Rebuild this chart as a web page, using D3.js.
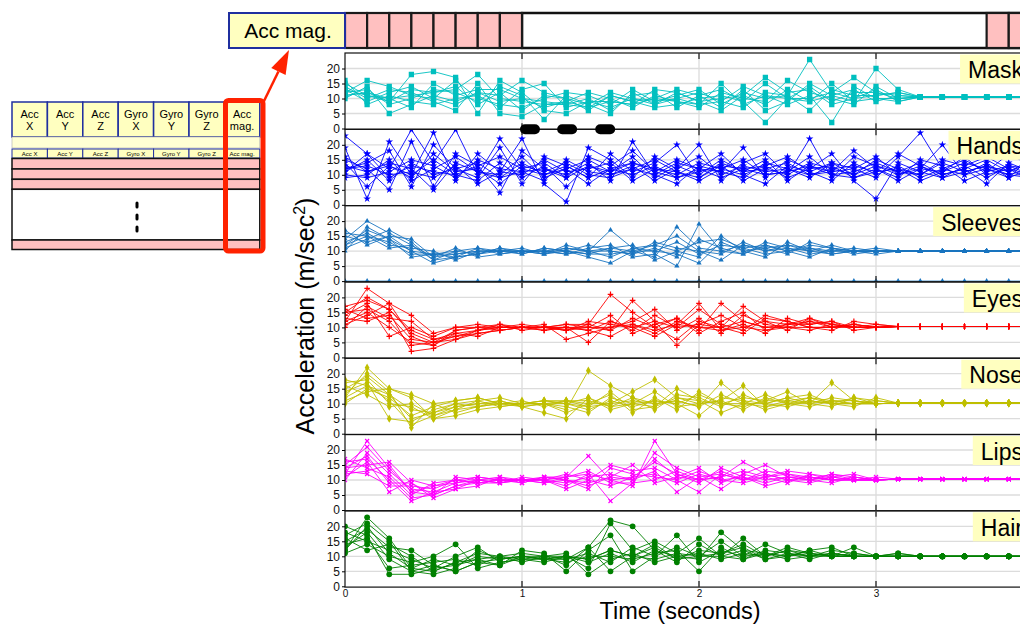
<!DOCTYPE html>
<html>
<head>
<meta charset="utf-8">
<script src="https://cdn.jsdelivr.net/npm/d3@7"></script>
<style>
    body { margin: 0; background: #fff; overflow: hidden; }
    svg { display: block; font-family: 'Liberation Sans', Arial, sans-serif; }
</style>
</head>
<body>
<div id="chart"></div>
<script>
// sample times (seconds)
var times = [0, 0.125, 0.25, 0.375, 0.5, 0.625, 0.75, 0.875, 1, 1.125, 1.25, 1.375, 1.5, 1.625, 1.75, 1.875,
    2, 2.125, 2.25, 2.375, 2.5, 2.625, 2.75, 2.875, 3, 3.125, 3.25, 3.375, 3.5, 3.625, 3.75, 3.875];

var panelNames = ['Mask', 'Hands', 'Sleeves', 'Eyes', 'Nose', 'Lips', 'Hair'];
var yTicks = [0, 5, 10, 15, 20];
var xTicks = [0, 1, 2, 3];
var tableColumns = ['Acc X', 'Acc Y', 'Acc Z', 'Gyro X', 'Gyro Y', 'Gyro Z', 'Acc mag.'];
var stripLabel = 'Acc mag.';
var stripCells = [0, 0.125, 0.25, 0.375, 0.5, 0.625, 0.75, 0.875, 3.625, 3.75];
var breakMarks = [1.045, 1.255, 1.47];

var maskSeries = [
    [12,16,14,11,12,13,18,10,9,8, 8,7,9,8,10,9,8,9,7,12, 11,23,12,10,11,12, 10.5,10.5,10.5,10.5,10.5,10.5],
    [15,11,9,18,19,17,5,16,12,6, 5,9,7,10,8,12,9,6,11,8, 13,9,15,9,20,13, 10.5,10.5,10.5,10.5,10.5,10.5],
    [10,14,5,8,11,9,12,11,16,12, 10,6,11,9,7,8,10,11,9,2, 10,14,9,12,12,10, 10.5,10.5,10.5,10.5,10.5,10.5],
    [13,9,12,14,10,16,10,8,7,10, 12,11,8,13,9,10,12,9,14,11, 8,11,2,14,10,9, 10.5,10.5,10.5,10.5,10.5,10.5],
    [11,12,10,7,15,11,13,13,10,9, 8,10,6,11,12,7,11,13,9,15, 10,9,11,13,9,11, 10.5,10.5,10.5,10.5,10.5,10.5],
    [14,10,13,12,9,6,15,5,4,8, 9,12,10,7,11,9,7,12,10,9, 16,12,10,8,14,10, 10.5,10.5,10.5,10.5,10.5,10.5],
    [12,13,8,10,13,12,9,14,11,3, 11,8,12,10,9,11,13,8,12,10, 11,6,13,11,11,12, 10.5,10.5,10.5,10.5,10.5,10.5],
    [16,8,11,9,8,10,11,7,13,15, 7,9,9,8,13,12,9,10,11,17, 12,13,8,10,13,9, 10.5,10.5,10.5,10.5,10.5,10.5],
    [11,12,9,13,12,14,8,12,6,11, 10,8,5,12,8,10,8,15,8,11, 10,10,12,17,12,11, 10.5,10.5,10.5,10.5,10.5,10.5],
    [13,11,10,11,10,8,12,9,10,7, 9,7,11,9,10,13,11,7,13,6, 9,15,11,9,10,10, 10.5,10.5,10.5,10.5,10.5,10.5]
];

var handsSeries = [
    [23,17,12,25,14,25,10,22,12,14, 9,16,13,18,11,15,12,17,10,13, 16,11,14,12,9,16,24,12,15,11, 13,12],
    [19,2,21,10,24,8,17,11,22,7, 1,19,15,9,16,12,20,8,14,17, 10,22,9,16,13,10,12,20,10,14, 9,16],
    [15,12,5,21,6,17,13,4,18,12, 10,14,8,21,10,7,13,11,19,9, 15,12,17,8,2,14,11,9,13,16, 12,10],
    [12,14,18,6,20,12,9,19,7,16, 13,9,17,11,14,20,9,14,11,15, 8,13,11,18,12,9,15,13,8,11, 17,13],
    [10,9,11,15,13,9,15,12,11,8, 15,11,10,13,8,12,16,10,13,11, 12,9,14,10,15,12,8,11,14,12, 10,9],
    [13,11,14,12,5,14,11,9,14,10, 12,7,12,10,13,9,11,13,8,12, 14,10,12,13,11,17,13,10,12,7, 14,11],
    [11,17,9,13,11,10,8,14,9,13, 6,13,11,14,12,11,8,12,15,10, 11,16,10,11,14,11,10,14,11,13, 11,15],
    [14,6,13,9,17,11,12,7,13,11, 14,10,9,12,10,14,12,9,12,13, 9,12,13,9,12,8,12,11,16,10, 12,8],
    [12,13,10,11,9,13,7,11,10,15, 11,12,14,8,12,10,14,12,10,7, 13,11,8,14,10,13,9,12,10,12, 9,12],
    [9,10,15,8,12,16,11,10,16,9, 12,15,11,16,9,13,10,15,11,12, 10,14,12,10,13,11,14,10,12,15, 11,14],
    [16,11,13,10,15,10,13,16,12,10, 13,9,12,14,11,9,12,11,9,14, 12,10,11,12,16,10,13,9,11,13, 10,12],
    [11,15,8,14,10,12,14,9,11,12, 9,13,10,12,15,11,9,13,12,10, 11,13,10,9,11,12,10,15,13,9, 13,10]
];

var sleevesSeries = [
    [14,20,16,12,8,9,10,10,10,10, 11,10,17,11,12,10,13,14,11,12, 10,11,10,10,10,10, 10,10,10,10,10,10],
    [12,17,14,10,6,8,9,10,11,9, 10,8,6,10,12,15,10,9,13,10, 12,11,9,10,10,10, 10,10,10,10,10,10],
    [16,15,13,9,9,10,11,9,10,10, 9,11,12,8,9,5,19,10,12,11, 9,13,11,10,11,10, 10,10,10,10,10,10],
    [11,14,17,13,7,8,9,11,9,11, 10,9,11,12,7,10,8,15,10,8, 13,10,12,10,9,10, 10,10,10,10,10,10],
    [13,16,12,11,10,7,10,10,10,9, 12,10,10,9,11,8,14,11,9,13, 11,9,10,11,10,10, 10,10,10,10,10,10],
    [15,13,15,14,8,11,8,9,10,10, 9,10,8,11,10,13,9,12,11,9, 10,12,11,9,10,10, 10,10,10,10,10,10],
    [10,18,14,8,9,9,10,10,9,11, 10,12,10,9,13,11,10,7,12,10, 11,10,10,10,10,10, 10,10,10,10,10,10],
    [12,15,11,12,7,10,9,11,10,10, 10,9,9,10,8,18,11,10,9,12, 10,8,11,10,10,10, 10,10,10,10,10,10],
    [17,12,15,10,9,8,11,10,10,9, 11,10,11,10,10,9,6,13,10,11, 12,10,9,10,10,10, 10,10,10,10,10,10],
    [0,0,0,0,0,0,0,0,0,0, 0,0,0,0,0,0,0,0,0,0, 0,0,0,0,0,0, 0,0,0,0,0,0]
];

var eyesSeries = [
    [12,23,18,14,8,10,10,11,10,10, 9,11,21,15,10,13,9,18,12,10, 11,12,10,11,10, 10.3,10.3,10.3,10.3,10.3,10.3,10.3],
    [17,19,16,9,6,7,8,9,10,10, 11,10,9,19,12,4,11,10,17,12, 9,13,11,10,10, 10.3,10.3,10.3,10.3,10.3,10.3,10.3],
    [15,16,12,4,5,6,9,10,10,9, 10,5,12,9,14,10,16,11,9,14, 12,10,9,12,11, 10.3,10.3,10.3,10.3,10.3,10.3,10.3],
    [11,14,18,7,4,8,9,10,11,10, 10,9,7,11,8,12,10,9,11,8, 13,11,12,9,10, 10.3,10.3,10.3,10.3,10.3,10.3,10.3],
    [13,12,15,2,3,6,8,9,10,11, 6,8,10,12,16,9,13,8,14,11, 10,9,11,10,11, 10.3,10.3,10.3,10.3,10.3,10.3,10.3],
    [14,18,7,10,7,10,11,10,10,10, 9,12,11,10,7,11,18,9,10,12, 11,13,10,11,10, 10.3,10.3,10.3,10.3,10.3,10.3,10.3],
    [16,13,14,6,5,7,9,11,9,10, 10,10,14,8,11,13,8,12,15,9, 10,12,11,10,10, 10.3,10.3,10.3,10.3,10.3,10.3,10.3],
    [12,15,10,5,4,9,10,9,10,10, 11,11,9,13,10,6,12,10,8,13, 12,10,10,11,10, 10.3,10.3,10.3,10.3,10.3,10.3,10.3],
    [10,17,13,12,6,8,7,10,10,9, 10,9,12,10,12,10,11,14,10,9, 11,11,12,10,10, 10.3,10.3,10.3,10.3,10.3,10.3,10.3],
    [15,20,16,8,5,9,10,10,10,10, 9,10,10,11,9,11,10,10,12,10, 10,10,10,10,10, 10.3,10.3,10.3,10.3,10.3,10.3,10.3]
];

var noseSeries = [
    [12,22,15,13,10,11,12,10,9,10, 8,21,16,12,10,11,9,17,11,10, 12,10,17,11,10, 10.2,10.2,10.2,10.2,10.2,10.2,10.2],
    [18,16,11,3,6,8,9,10,10,11, 10,9,10,14,18,12,10,11,16,9, 11,12,10,12,11, 10.2,10.2,10.2,10.2,10.2,10.2,10.2],
    [15,19,13,8,7,9,10,11,9,7, 5,12,8,10,9,15,11,7,10,13, 10,9,11,10,10, 10.2,10.2,10.2,10.2,10.2,10.2,10.2],
    [11,14,15,12,5,6,8,9,10,10, 11,10,13,7,12,8,14,10,9,11, 14,10,11,11,10, 10.2,10.2,10.2,10.2,10.2,10.2,10.2],
    [14,17,5,4,8,10,11,12,10,11, 10,8,11,9,11,10,6,12,11,8, 10,11,10,9,12, 10.2,10.2,10.2,10.2,10.2,10.2,10.2],
    [16,13,9,10,6,9,10,10,11,9, 11,11,9,12,8,13,12,9,13,10, 12,13,10,10,10, 10.2,10.2,10.2,10.2,10.2,10.2,10.2],
    [10,15,12,6,9,11,12,10,10,10, 9,7,12,10,14,9,10,11,8,12, 10,10,12,11,10, 10.2,10.2,10.2,10.2,10.2,10.2,10.2],
    [13,20,14,2,10,7,9,11,9,10, 7,10,10,11,10,11,9,13,10,10, 9,11,10,10,11, 10.2,10.2,10.2,10.2,10.2,10.2,10.2],
    [17,18,10,9,5,8,11,9,10,11, 11,9,14,8,9,12,11,10,12,11, 11,10,9,12,10, 10.2,10.2,10.2,10.2,10.2,10.2,10.2],
    [12,16,13,5,7,10,9,10,10,10, 10,12,9,10,11,10,13,10,10,9, 10,12,11,10,10, 10.2,10.2,10.2,10.2,10.2,10.2,10.2]
];

var lipsSeries = [
    [12,23,14,6,5,8,9,10,10,9, 11,18,10,8,23,12,10,11,16,12, 10,11,10,10,10, 10.3,10.3,10.3,10.3,10.3,10.3,10.3],
    [16,17,10,3,6,9,10,9,10,10, 8,12,3,9,19,14,11,7,12,15, 11,10,12,11,10, 10.3,10.3,10.3,10.3,10.3,10.3,10.3],
    [14,15,16,9,4,7,8,11,9,11, 10,7,14,12,11,10,13,10,9,11, 13,12,10,10,11, 10.3,10.3,10.3,10.3,10.3,10.3,10.3],
    [10,19,12,5,9,10,11,10,10,10, 12,10,8,11,16,12,9,14,11,8, 10,9,11,12,10, 10.3,10.3,10.3,10.3,10.3,10.3,10.3],
    [13,12,8,8,7,10,9,9,11,10, 9,11,12,10,13,6,11,12,10,13, 12,11,10,10,10, 10.3,10.3,10.3,10.3,10.3,10.3,10.3],
    [17,14,11,4,5,8,10,10,10,9, 10,9,11,15,9,11,14,9,12,10, 11,10,9,11,10, 10.3,10.3,10.3,10.3,10.3,10.3,10.3],
    [11,16,6,10,8,9,11,10,9,11, 11,13,9,9,10,13,10,11,13,11, 9,12,11,10,10, 10.3,10.3,10.3,10.3,10.3,10.3,10.3],
    [15,21,13,7,6,7,10,11,10,10, 7,10,15,13,14,10,6,12,10,12, 10,10,12,10,10, 10.3,10.3,10.3,10.3,10.3,10.3,10.3],
    [12,13,15,6,8,10,9,10,10,10, 11,12,10,11,12,9,12,10,11,9, 11,11,10,11,10, 10.3,10.3,10.3,10.3,10.3,10.3,10.3],
    [14,18,9,9,5,11,10,9,10,11, 10,8,11,10,17,11,10,13,10,11, 12,10,11,10,10, 10.3,10.3,10.3,10.3,10.3,10.3,10.3]
];

var hairSeries = [
    [12,23,16,6,5,8,9,10,8,10, 9,13,22,20,12,10,9,18,12,11, 10,12,13,10,10,11, 10,10,10,10,10,10],
    [20,17,4,4,6,7,10,9,10,9, 10,6,21,12,15,11,16,10,16,10, 12,11,10,13,10,10, 10,10,10,10,10,10],
    [15,19,13,12,7,5,8,7,12,11, 5,12,17,5,10,17,8,12,10,14, 11,10,11,10,10,10, 10,10,10,10,10,10],
    [11,14,10,8,10,14,6,8,9,8, 10,9,12,10,13,9,12,11,13,9, 10,12,10,11,10,10, 10,10,10,10,10,10],
    [17,21,15,5,4,6,12,9,10,9, 8,10,10,9,11,12,5,13,9,12, 11,9,11,10,10,10, 10,10,10,10,10,10],
    [14,16,6,7,8,9,7,10,11,10, 11,4,9,11,8,10,11,9,11,10, 13,11,10,10,10,10, 10,10,10,10,10,10],
    [18,15,12,9,6,10,13,8,9,9, 9,11,8,13,10,13,10,10,12,9, 11,10,12,11,10,11, 10,10,10,10,10,10],
    [13,18,9,5,7,5,8,9,10,10, 10,8,11,8,12,8,14,10,9,11, 10,11,10,10,10,10, 10,10,10,10,10,10],
    [16,12,14,10,5,8,11,10,9,10, 7,13,5,10,9,11,10,15,10,11, 9,10,10,10,10,10, 10,10,10,10,10,10],
    [12,20,11,6,9,7,9,7,10,9, 10,9,12,10,14,9,10,11,14,10, 12,10,11,10,10,10, 10,10,10,10,10,10]
];

var panelSeries = [maskSeries, handsSeries, sleevesSeries, eyesSeries, noseSeries, lipsSeries, hairSeries];

// styles per panel, kept apart from the data
var styles = {
    Mask:    {color: '#00bfbf', symbol: d3.symbolSquare, size: 28},
    Hands:   {color: '#0000ff', symbol: d3.symbolStar, size: 18},
    Sleeves: {color: '#1874c0', symbol: d3.symbolTriangle, size: 12},
    Eyes:    {color: '#ff0000', symbol: d3.symbolPlus || d3.symbolCross, size: 12, stroke: !!d3.symbolPlus},
    Nose:    {color: '#bfbf00', symbol: d3.symbolDiamond, size: 20},
    Lips:    {color: '#ff00ff', symbol: d3.symbolX || d3.symbolCross, size: 12, stroke: !!d3.symbolX},
    Hair:    {color: '#008000', symbol: d3.symbolCircle, size: 26}
};

var width = 1020,
    height = 625,
    top0 = 53,
    panelH = 76.3,
    yellow = '#ffffc0',
    pink = '#ffc0c0',
    navy = '#1f2f9f',
    svg = d3.select('#chart').append('svg')
        .attr('width', width)
        .attr('height', height),
    x = d3.scaleLinear().domain([0, 4]).range([345, 1053]),
    xEnd = x(4.4);

// ---- panels
panelNames.forEach(function(name, p) {
    var top = top0 + p*panelH,
        bottom = top + panelH,
        st = styles[name],
        y = d3.scaleLinear().domain([0, 25]).range([bottom - 0.8, top + 0.5]),
        g = svg.append('g').attr('class', 'panel');

    g.append('clipPath')
        .attr('id', 'clip' + p)
        .append('rect')
        .attr('x', x(0))
        .attr('y', top)
        .attr('width', xEnd - x(0))
        .attr('height', panelH);

    g.selectAll('.hgrid')
        .data(yTicks.filter(function(d) { return d > 0; }))
        .enter()
        .append('line')
        .attr('x1', x(0)).attr('x2', xEnd)
        .attr('y1', y).attr('y2', y)
        .attr('stroke', '#dcdcdc')
        .attr('stroke-width', 1.3);

    g.selectAll('.vgrid')
        .data(xTicks.filter(function(d) { return d > 0; }))
        .enter()
        .append('line')
        .attr('x1', x).attr('x2', x)
        .attr('y1', top).attr('y2', bottom)
        .attr('stroke', '#dcdcdc')
        .attr('stroke-width', 1.3);

    var plot = g.append('g').attr('clip-path', 'url(#clip' + p + ')'),
        line = d3.line()
            .x(function(d, i) { return x(times[i]); })
            .y(function(d) { return y(d); });

    plot.selectAll('.series')
        .data(panelSeries[p])
        .enter()
        .append('path')
        .attr('d', line)
        .attr('fill', 'none')
        .attr('stroke', st.color)
        .attr('stroke-width', 0.9);

    var sym = d3.symbol().type(st.symbol).size(st.size);
    plot.selectAll('.mk')
        .data(panelSeries[p])
        .enter()
        .append('g')
        .selectAll('path')
        .data(function(d) { return d; })
        .enter()
        .append('path')
        .attr('transform', function(d, i) { return 'translate(' + x(times[i]) + ',' + y(d) + ')'; })
        .attr('d', sym)
        .attr('fill', st.stroke ? 'none' : st.color)
        .attr('stroke', st.stroke ? st.color : 'none')
        .attr('stroke-width', 1.2);

    // frame and inward ticks
    g.append('rect')
        .attr('x', x(0)).attr('y', top)
        .attr('width', xEnd - x(0)).attr('height', panelH)
        .attr('fill', 'none')
        .attr('stroke', '#111')
        .attr('stroke-width', 1.2);

    g.selectAll('.tk')
        .data(xTicks.filter(function(d) { return d > 0; }))
        .enter()
        .append('path')
        .attr('d', function(d) {
            return 'M' + x(d) + ',' + top + 'v6M' + x(d) + ',' + bottom + 'v-6';
        })
        .attr('stroke', '#333')
        .attr('stroke-width', 1.4);

    var yAxis = d3.axisLeft(y).tickValues(yTicks).tickSize(3).tickPadding(2);
    var ya = g.append('g')
        .attr('transform', 'translate(' + x(0) + ',0)')
        .call(yAxis);
    ya.select('.domain').remove();
    ya.selectAll('text').style('font-size', '12px').attr('fill', '#111');

    // panel label on a pale yellow box
    var box = g.append('rect')
        .attr('y', top + 1.5)
        .attr('width', 120)
        .attr('height', 29)
        .attr('fill', yellow);
    var lbl = g.append('text')
        .attr('x', 1023)
        .attr('y', top + 25)
        .attr('text-anchor', 'end')
        .style('font-size', '23px')
        .text(name);
    box.attr('x', lbl.node().getBBox().x - 8);

    if (p === panelNames.length - 1) {
        var xa = g.append('g')
            .attr('transform', 'translate(0,' + bottom + ')')
            .call(d3.axisBottom(x).tickValues(xTicks).tickFormat(d3.format('d')).tickSize(0).tickPadding(3));
        xa.select('.domain').remove();
        xa.selectAll('text').style('font-size', '10px').attr('fill', '#111');
    }
});

// break marks on Mask/Hands border
svg.selectAll('.brk')
    .data(breakMarks)
    .enter()
    .append('rect')
    .attr('x', function(d) { return x(d) - 10; })
    .attr('y', top0 + panelH - 5)
    .attr('width', 20)
    .attr('height', 10)
    .attr('rx', 5)
    .attr('fill', '#000');

// axis titles
svg.append('text')
    .attr('transform', 'translate(314,316) rotate(-90)')
    .attr('text-anchor', 'middle')
    .style('font-size', '25px')
    .text('Acceleration (m/sec')
    .call(function(t) {
        t.append('tspan').attr('dy', -9).style('font-size', '16px').text('2');
        t.append('tspan').attr('dy', 9).text(')');
    });

svg.append('text')
    .attr('x', 680)
    .attr('y', 619)
    .attr('text-anchor', 'middle')
    .style('font-size', '23.5px')
    .text('Time (seconds)');

// ---- top strip
var strip = svg.append('g');
strip.append('rect')
    .attr('x', x(1)).attr('y', 13)
    .attr('width', xEnd - x(1)).attr('height', 35)
    .attr('fill', '#fff')
    .attr('stroke', '#111')
    .attr('stroke-width', 2.5);
strip.selectAll('.cell')
    .data(stripCells)
    .enter()
    .append('rect')
    .attr('x', function(d) { return x(d); })
    .attr('y', 13)
    .attr('width', x(0.125) - x(0))
    .attr('height', 35)
    .attr('fill', pink)
    .attr('stroke', '#1a1a1a')
    .attr('stroke-width', 2.2);
strip.append('rect')
    .attr('x', 229).attr('y', 13)
    .attr('width', x(0) - 229).attr('height', 35)
    .attr('fill', yellow)
    .attr('stroke', navy)
    .attr('stroke-width', 2);
strip.append('text')
    .attr('x', 288).attr('y', 38)
    .attr('text-anchor', 'middle')
    .style('font-size', '21px')
    .text(stripLabel);

// ---- left table
var tbl = svg.append('g'),
    tx0 = 12,
    cw = 35.4,
    tw = cw*tableColumns.length;

tbl.selectAll('.hdr')
    .data(tableColumns)
    .enter()
    .append('rect')
    .attr('x', function(d, i) { return tx0 + i*cw; })
    .attr('y', 102)
    .attr('width', cw).attr('height', 35)
    .attr('fill', yellow)
    .attr('stroke', navy)
    .attr('stroke-width', 1.5);
tbl.selectAll('.hdrt')
    .data(tableColumns)
    .enter()
    .append('text')
    .attr('text-anchor', 'middle')
    .style('font-size', '11px')
    .each(function(d, i) {
        var t = d3.select(this);
        d.split(' ').forEach(function(w, j) {
            t.append('tspan')
                .attr('x', tx0 + (i + 0.5)*cw)
                .attr('y', 118 + j*12)
                .text(w);
        });
    });
tbl.append('rect')
    .attr('x', tx0).attr('y', 137)
    .attr('width', tw).attr('height', 11)
    .attr('fill', '#ffffd4')
    .attr('stroke', '#aaa')
    .attr('stroke-width', 0.6);
tbl.selectAll('.sub')
    .data(tableColumns)
    .enter()
    .append('rect')
    .attr('x', function(d, i) { return tx0 + i*cw; })
    .attr('y', 149)
    .attr('width', cw).attr('height', 9)
    .attr('fill', yellow)
    .attr('stroke', navy)
    .attr('stroke-width', 1);
tbl.selectAll('.subt')
    .data(tableColumns)
    .enter()
    .append('text')
    .attr('x', function(d, i) { return tx0 + (i + 0.5)*cw; })
    .attr('y', 156)
    .attr('text-anchor', 'middle')
    .style('font-size', '6px')
    .text(function(d) { return d; });

var rows = [[158.5, 10.5, pink], [169, 10.3, pink], [179.3, 10, pink], [189.3, 50.7, '#fff'], [240, 9.5, pink]];
tbl.selectAll('.row')
    .data(rows)
    .enter()
    .append('rect')
    .attr('x', tx0)
    .attr('y', function(d) { return d[0]; })
    .attr('width', tw)
    .attr('height', function(d) { return d[1]; })
    .attr('fill', function(d) { return d[2]; })
    .attr('stroke', '#111')
    .attr('stroke-width', 1.5);
tbl.selectAll('.dot')
    .data([205, 217, 229])
    .enter()
    .append('rect')
    .attr('x', 135.5).attr('y', function(d) { return d - 3.5; })
    .attr('width', 3).attr('height', 7)
    .attr('rx', 1.5)
    .attr('fill', '#000');

// red highlight and arrow
tbl.append('rect')
    .attr('x', 225.5).attr('y', 100.5)
    .attr('width', 37.5).attr('height', 150.5)
    .attr('rx', 3)
    .attr('fill', 'none')
    .attr('stroke', '#ff2200')
    .attr('stroke-width', 5);

var a0 = [264, 101], a1 = [289, 50],
    dx = a1[0] - a0[0], dy = a1[1] - a0[1],
    len = Math.sqrt(dx*dx + dy*dy),
    ux = dx/len, uy = dy/len,
    hb = [a1[0] - ux*24, a1[1] - uy*24];
tbl.append('line')
    .attr('x1', a0[0]).attr('y1', a0[1])
    .attr('x2', hb[0]).attr('y2', hb[1])
    .attr('stroke', '#ff2200')
    .attr('stroke-width', 2.5);
tbl.append('path')
    .attr('d', 'M' + a1[0] + ',' + a1[1] +
        'L' + (hb[0] - uy*8) + ',' + (hb[1] + ux*8) +
        'L' + (hb[0] + uy*8) + ',' + (hb[1] - ux*8) + 'Z')
    .attr('fill', '#ff2200');
</script>
</body>
</html>
